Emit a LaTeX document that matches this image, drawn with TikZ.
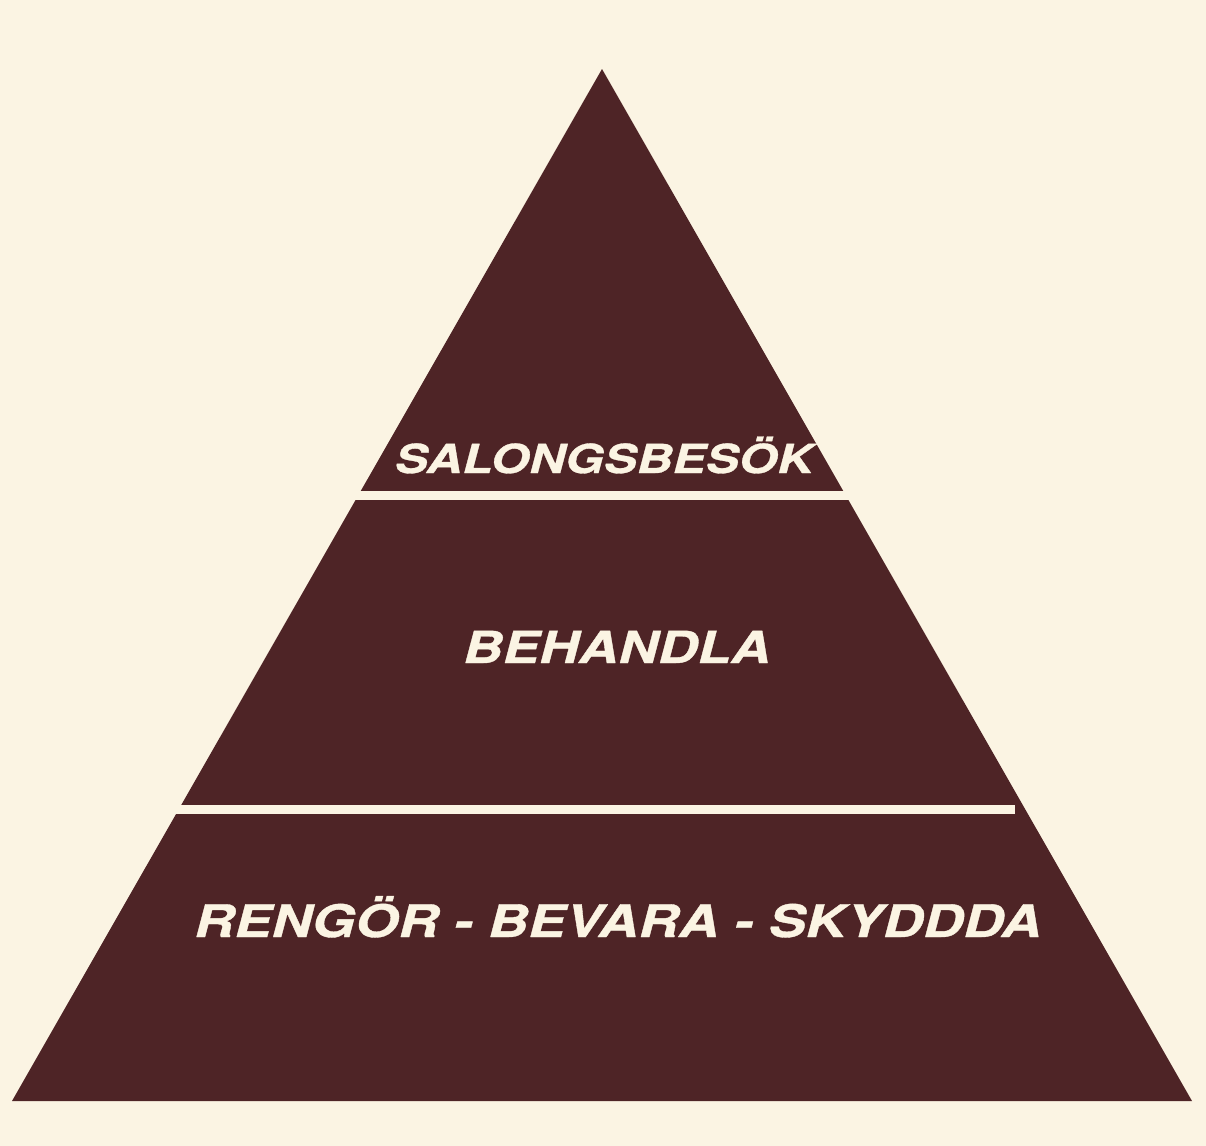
\documentclass[tikz,border=0pt]{standalone}
\usepackage{fontspec}
\newfontfamily\pyrfont[FakeStretch=1.24, FakeBold=0.8]{TeX Gyre Heros}
\definecolor{cream}{HTML}{FBF4E3}
\definecolor{maroon}{HTML}{4E2426}
\tikzset{
  tier/.style={anchor=base, inner sep=0pt, text=cream,
    font=\pyrfont\bfseries\itshape\fontsize{#1}{#1}\selectfont}
}
\begin{document}
\begin{tikzpicture}[x=0.5pt, y=-0.5pt, line join=round]
	\fill[cream] (0,0) rectangle (1206,1146);
	\useasboundingbox (0,0) rectangle (1206,1146);
	
	\path 
	(602,69) coordinate (T)
	(12,1101) coordinate (L)
	(1192,1101) coordinate (R)
	;
	\fill[maroon] (T)--(L)--(R)--cycle;
	% gaps between the tiers
	\fill[cream] (340,491) rectangle (870,499.5);
	\fill[cream] (150,805) rectangle (1015,814);
	
	\node[tier=20] (top) at (604,473) {SALONGSBESÖK};
	\node[tier=22.1] (mid) at (617,663) {BEHANDLA};
	\node[tier=22.45] (base) at (618,937) {RENGÖR - BEVARA - SKYDDDA};
\end{tikzpicture}
\end{document}
